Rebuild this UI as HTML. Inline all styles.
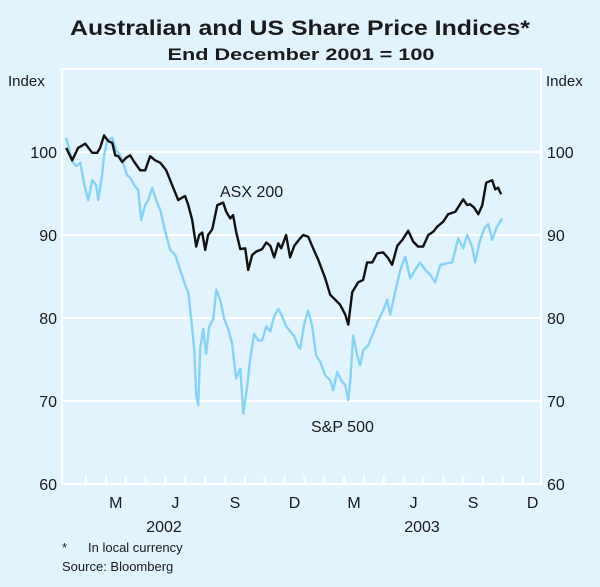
<!DOCTYPE html>
<html><head><meta charset="utf-8"><style>
html,body{margin:0;padding:0;background:#e1f3fd;}
svg{display:block;font-family:"Liberation Sans",Arial,sans-serif;}
</style></head><body>
<svg id="chart" width="600" height="587" viewBox="0 0 600 587">
<rect width="600" height="587" fill="#e1f3fd"/>
<text x="300" y="35" text-anchor="middle" font-size="21" font-weight="bold" fill="#1a1a1a" textLength="460" lengthAdjust="spacingAndGlyphs">Australian and US Share Price Indices*</text>
<text x="301" y="60" text-anchor="middle" font-size="17" font-weight="bold" fill="#1a1a1a" textLength="267" lengthAdjust="spacingAndGlyphs">End December 2001 = 100</text>
<text x="8" y="86" font-size="15" fill="#1a1a1a">Index</text>
<text x="546" y="86" font-size="15" fill="#1a1a1a">Index</text>
<g id="grid"></g>
<g id="series"></g>
<text x="220" y="197" font-size="16" fill="#1a1a1a">ASX 200</text>
<text x="311" y="432" font-size="16" fill="#1a1a1a">S&amp;P 500</text>
<text x="164" y="532" text-anchor="middle" font-size="16" fill="#1a1a1a">2002</text>
<text x="422" y="532" text-anchor="middle" font-size="16" fill="#1a1a1a">2003</text>
<text x="62" y="552" font-size="13" fill="#1a1a1a">*</text>
<text x="88" y="552" font-size="13" fill="#1a1a1a">In local currency</text>
<text x="62" y="571" font-size="13" fill="#1a1a1a">Source: Bloomberg</text>
</svg>
<script>
const yTicks=[60,70,80,90,100];
const monthLabels=["M","J","S","D","M","J","S","D"];
const monthLabelPos=[2,5,8,11,14,17,20,23];
const asxT=[0,0.3,0.6,0.96,1.31,1.56,1.71,1.91,2.12,2.32,2.47,2.62,2.82,3.02,3.22,3.43,3.73,3.98,4.23,4.48,4.74,5.04,5.34,5.64,5.84,5.99,6.15,6.35,6.55,6.7,6.85,7,7.15,7.36,7.61,7.91,8.06,8.26,8.41,8.56,8.77,9.02,9.17,9.37,9.57,9.87,10.08,10.28,10.48,10.68,10.83,11.08,11.28,11.49,11.79,11.94,12.19,12.44,12.7,13.05,13.3,13.55,13.8,14.06,14.21,14.41,14.71,14.96,15.16,15.42,15.67,15.97,16.22,16.42,16.68,16.93,17.23,17.48,17.73,17.98,18.24,18.49,18.69,18.99,19.24,19.6,20,20.2,20.35,20.55,20.76,20.96,21.16,21.46,21.61,21.76,21.91];
const asxV=[100.5,99,100.5,101,99.9,99.9,100.5,102,101.3,101.1,99.6,99.5,98.8,99.3,99.6,98.8,97.8,97.8,99.5,99,98.7,97.8,96,94.2,94.5,94.7,93.6,91.8,88.6,90,90.3,88.2,90,90.7,93.6,93.9,92.8,92,92.4,90.4,88.3,88.4,85.8,87.6,88,88.3,89.1,88.7,87.3,89,88.4,90,87.3,88.7,89.6,90,89.8,88.4,87,84.8,82.8,82.2,81.6,80.4,79.2,83.1,84.3,84.6,86.7,86.7,87.8,87.9,87.2,86.4,88.7,89.4,90.5,89.2,88.6,88.6,90,90.4,91,91.6,92.5,92.8,94.3,93.6,93.7,93.3,92.5,93.6,96.3,96.6,95.5,95.7,94.9];
const spT=[0,0.3,0.5,0.71,0.91,1.11,1.31,1.51,1.61,1.81,1.91,2.07,2.32,2.52,2.72,2.92,3.07,3.22,3.43,3.63,3.78,3.98,4.13,4.33,4.53,4.74,4.99,5.24,5.49,5.74,5.99,6.15,6.3,6.45,6.55,6.65,6.75,6.9,7.05,7.2,7.41,7.56,7.76,7.96,8.16,8.36,8.56,8.77,8.92,9.12,9.27,9.47,9.67,9.87,10.08,10.28,10.48,10.68,10.88,11.08,11.28,11.49,11.69,11.79,11.99,12.19,12.39,12.59,12.8,13.05,13.3,13.45,13.65,13.85,14.06,14.21,14.31,14.46,14.66,14.81,14.96,15.21,15.42,15.72,15.97,16.17,16.32,16.57,16.83,17.08,17.33,17.58,17.83,18.09,18.34,18.59,18.84,19.19,19.45,19.75,20,20.2,20.45,20.6,20.81,21.06,21.26,21.46,21.66,21.96];
const spV=[101.7,98.9,98.3,98.7,96.1,94.2,96.6,96,94.2,97.2,99.6,101.4,101.7,100.2,99.6,98.3,97.2,96.9,96,95.4,91.8,93.6,94.2,95.7,94.2,93,90.4,88.2,87.6,85.8,84,83.1,79.8,76.3,70.7,69.5,76.3,78.7,75.7,78.9,79.9,83.4,82.2,79.9,78.7,76.9,72.7,73.9,68.5,71.8,75.1,78.1,77.3,77.3,79,78.4,80.2,81.1,80.2,79,78.4,77.8,76.6,76.3,79.3,80.9,79.1,75.5,74.7,73.1,72.5,71.3,73.5,72.5,71.9,70.1,72.5,77.9,75.5,74.3,76.1,76.7,77.9,79.7,80.9,82.2,80.4,83.1,85.8,87.4,84.8,85.8,86.7,85.8,85.2,84.3,86.4,86.6,86.7,89.6,88.4,90,88.6,86.7,89,90.8,91.3,89.4,90.8,92];
const L=62,R=541,T=69,B=484;
const x=m=>Math.max(L+1,66.2+m*19.85);
const y=v=>B-(v-60)*(B-T)/50;
const NS="http://www.w3.org/2000/svg";
const grid=document.getElementById('grid'),ser=document.getElementById('series');
function mk(tag,attrs,parent){const e=document.createElementNS(NS,tag);for(const k in attrs)e.setAttribute(k,attrs[k]);parent.appendChild(e);return e;}
const frame=mk('rect',{x:L,y:T,width:R-L,height:B-T,fill:'none',stroke:'#fff','stroke-width':2},grid);


yTicks.forEach(v=>{
 const g=mk('line',{x1:L,x2:R,y1:y(v),y2:y(v),stroke:'#fff','stroke-width':2},grid);
 
 
 const t1=mk('text',{x:L-5,y:y(v)+6,'text-anchor':'end','font-size':16,fill:'#1a1a1a'},grid);t1.textContent=v;
 
 
 const t2=mk('text',{x:R+6,y:y(v)+6,'font-size':16,fill:'#1a1a1a'},grid);t2.textContent=v;
 
 
});
for(let m=1;m<24;m++){
 const tk=mk('line',{x1:x(m),x2:x(m),y1:B,y2:B-8,stroke:'#fff','stroke-width':2},grid);
 
 
}
monthLabels.forEach((s,i)=>{
 const t=mk('text',{x:x(monthLabelPos[i]+0.5),y:508,'text-anchor':'middle','font-size':16,fill:'#1a1a1a'},grid);t.textContent=s;
 
 
});
function line(T_,V,color,name){
 const d=T_.map((t,i)=>(i?'L':'M')+x(t).toFixed(1)+','+y(V[i]).toFixed(1)).join('');
 const p=mk('path',{d:d,fill:'none',stroke:color,'stroke-width':2.4,'stroke-linejoin':'round'},ser);
 
 
}
line(spT,spV,'#86d3f5','sp-500-line');
line(asxT,asxV,'#111','asx-200-line');
</script>
</body></html>
